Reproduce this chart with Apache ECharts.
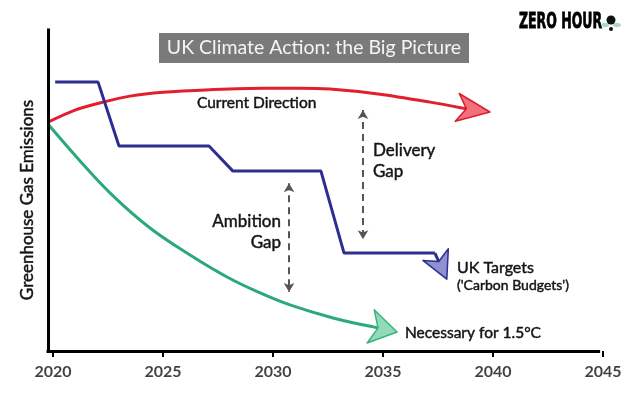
<!DOCTYPE html>
<html>
<head>
<meta charset="utf-8">
<script src="https://cdn.jsdelivr.net/npm/echarts@6/dist/echarts.min.js"></script>
<style>
html,body{margin:0;padding:0;background:#fff;}
#c{width:636px;height:403px;}
</style>
</head>
<body>
<div id="c"></div>
<script>
// ---- data ----
const tickYears = [2020, 2025, 2030, 2035, 2040, 2045];
const originYear = 2019.773;   // where the vertical axis crosses

const currentYears = [2019.77, 2021.0, 2022.27, 2023.5, 2025.0, 2027.14, 2029.55, 2031.23, 2032.59, 2034.86, 2037.14, 2038.64];
const currentVals  = [72.0, 75.8, 78.3, 80.2, 81.4, 82.2, 82.7, 82.7, 82.4, 80.8, 78.3, 76.4];
const currentTip   = [2039.86, 75.2];

const targetYears = [2020.1, 2022.05, 2023.0, 2027.09, 2028.18, 2032.18, 2033.23, 2037.36];
const targetVals  = [84.6, 84.6, 64.5, 64.5, 56.6, 56.6, 30.8, 30.8];
const targetTip   = [2037.9, 22.6];

const necessaryYears = [2019.77, 2021.23, 2022.73, 2024.41, 2026.23, 2027.91, 2029.41, 2030.77, 2032.73, 2034.55];
const necessaryVals  = [71.4, 59.8, 48.8, 38.7, 30.2, 23.3, 18.3, 14.5, 10.4, 7.6];
const necessaryTip   = [2035.64, 6.0];

// gap arrows: [year, from value, to value]
const ambitionGap = [2030.73, 52.8, 18.6];
const deliveryGap = [2034.09, 75.8, 35.2];

const zip = (xs, ys) => xs.map((x, i) => [x, ys[i]]);
const last = (xs, ys) => [xs[xs.length - 1], ys[ys.length - 1]];

const RED = '#e21f2d', BLUE = '#2c2f8f', GREEN = '#2aaa78', GRAY = '#555555';
const INK = '#141414';
const Y_MAX = 101;

// arrow head styles: [line colour, fill, outline, length px, width px]
const headStyles = [
  [RED,   '#f2707a', '#d71f2d', 33, 28],
  [BLUE,  '#8e90d2', '#2c2f8f', 27, 28],
  [GREEN, '#92dbb8', '#3bb382', 27, 34]
];
const headData = [
  last(currentYears, currentVals).concat(currentTip),
  last(targetYears, targetVals).concat(targetTip),
  last(necessaryYears, necessaryVals).concat(necessaryTip)
];

const chart = echarts.init(document.getElementById('c'), null, {renderer: 'canvas'});

const gapLine = (g) => [{coord: [g[0], g[1]]}, {coord: [g[0], g[2]]}];

function label(x, y, text, size, extra) {
  return {type: 'text', x: x, y: y, style: Object.assign({
    text: text, fill: INK, font: size + 'px Lato', verticalAlign: 'middle',
    stroke: INK, lineWidth: 0.45
  }, extra || {})};
}

function renderHead(params, api) {
  const s = headStyles[params.dataIndex];
  const a = api.coord([api.value(0), api.value(1)]);
  const b = api.coord([api.value(2), api.value(3)]);
  const dx = b[0] - a[0], dy = b[1] - a[1], L = Math.hypot(dx, dy);
  const ux = dx / L, uy = dy / L, nx = -uy, ny = ux;
  const h = s[3], w = s[4] / 2;
  const bx = b[0] - ux * h, by = b[1] - uy * h;
  const notch = [b[0] - ux * h * 0.72, b[1] - uy * h * 0.72];
  return {
    type: 'group',
    children: [
      {type: 'line', shape: {x1: a[0], y1: a[1], x2: notch[0] + ux * 2, y2: notch[1] + uy * 2},
        style: {stroke: s[0], lineWidth: 3}},
      {type: 'polygon', shape: {points: [
          [b[0], b[1]],
          [bx + nx * w, by + ny * w],
          notch,
          [bx - nx * w, by - ny * w]
        ]},
        style: {fill: s[1], stroke: s[2], lineWidth: 1.5, lineJoin: 'round'}}
    ]
  };
}

const option = {
  animation: false,
  backgroundColor: '#ffffff',
  grid: {left: 30, right: 33, top: 30, bottom: 52},
  xAxis: {
    type: 'value', min: 2018.955, max: 2045,
    axisLine: {show: false},
    axisTick: {show: true, length: 6, lineStyle: {color: '#000', width: 2}, customValues: tickYears},
    axisLabel: {show: false},
    splitLine: {show: false}
  },
  yAxis: {
    type: 'value', min: 0, max: Y_MAX,
    axisLine: {show: false},
    axisTick: {show: false}, axisLabel: {show: false}, splitLine: {show: false}
  },
  series: [
    {type: 'line', name: 'Current Direction', data: zip(currentYears, currentVals),
      smooth: 0.3, showSymbol: false, lineStyle: {color: RED, width: 3}, z: 3,
      markLine: {
        silent: true, symbol: 'none', label: {show: false}, z: 6,
        lineStyle: {color: '#000', width: 3, type: 'solid', cap: 'square'},
        data: [
          [{coord: [originYear, 0]}, {coord: [originYear, Y_MAX]}],
          [{coord: [originYear, 0]}, {coord: [2044.8, 0]}]
        ]
      }},
    {type: 'line', name: 'UK Targets', data: zip(targetYears, targetVals),
      smooth: false, showSymbol: false, lineStyle: {color: BLUE, width: 3}, z: 3,
      markLine: {
        silent: true, symbol: ['arrow', 'arrow'], symbolSize: [8, 9],
        label: {show: false},
        lineStyle: {color: GRAY, width: 2, type: [7, 5]},
        data: [gapLine(ambitionGap), gapLine(deliveryGap)]
      }},
    {type: 'line', name: 'Necessary for 1.5°C', data: zip(necessaryYears, necessaryVals),
      smooth: 0.4, showSymbol: false, lineStyle: {color: GREEN, width: 3}, z: 3},
    {type: 'custom', name: 'heads', data: headData, renderItem: renderHead, z: 5, silent: true,
      encode: {x: [0, 2], y: [1, 3]}},
    // year labels under the tick marks, placed through the x scale
    {type: 'scatter', name: 'years', silent: true, clip: false, z: 6,
      data: tickYears.map(y => [y, 0]),
      symbol: 'circle', symbolSize: 0.1, itemStyle: {color: 'rgba(0,0,0,0)'},
      label: {show: true, position: 'bottom', distance: 13, color: '#111',
        fontFamily: 'Lato', fontSize: 16, fontWeight: 'bold', align: 'center',
        formatter: p => String(p.value[0])},
      labelLayout: {hideOverlap: false, moveOverlap: null}}
  ],
  graphic: [
    {type: 'rect', shape: {x: 159, y: 33, width: 310, height: 30}, style: {fill: '#7a7a7a'}},
    {type: 'text', x: 314, y: 48, style: {text: 'UK Climate Action: the Big Picture', fill: '#f5f5f5',
      font: '19.5px Lato', align: 'center', verticalAlign: 'middle'}},
    Object.assign(label(28, 200, 'Greenhouse Gas Emissions', 17, {align: 'center'}), {rotation: Math.PI / 2}),
    label(197, 103, 'Current Direction', 15.5),
    label(373, 151, 'Delivery', 17),
    label(373, 172, 'Gap', 17),
    label(281, 222, 'Ambition', 17, {align: 'right'}),
    label(281, 243, 'Gap', 17, {align: 'right'}),
    label(457, 268, 'UK Targets', 16),
    label(457, 285, "('Carbon Budgets')", 14),
    label(405, 333, 'Necessary for 1.5°C', 15.5),
    {type: 'text', x: 519, y: 23, scaleX: 0.61, style: {text: 'ZERO HOUR', fill: '#000',
      font: 'bold 20.5px "DejaVu Sans"', verticalAlign: 'middle', stroke: '#000', lineWidth: 0.8}},
    {type: 'ellipse', shape: {cx: 605, cy: 25, rx: 4, ry: 2.3}, style: {fill: '#a6dcc0'}},
    {type: 'ellipse', shape: {cx: 617, cy: 25, rx: 4, ry: 2.3}, style: {fill: '#a6dcc0'}},
    {type: 'circle', shape: {cx: 611, cy: 20, r: 4.5}, style: {fill: '#111'}},
    {type: 'circle', shape: {cx: 611, cy: 29, r: 2}, style: {fill: '#111'}}
  ]
};
chart.setOption(option);
</script>
</body>
</html>
